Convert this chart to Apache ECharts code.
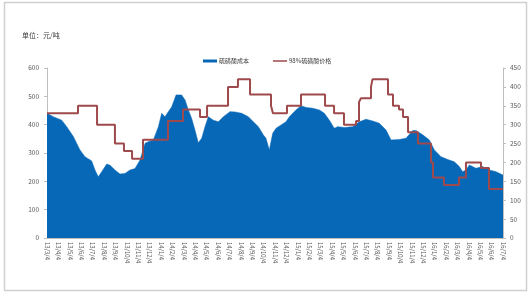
<!DOCTYPE html>
<html><head><meta charset="utf-8">
<script src="https://cdn.jsdelivr.net/npm/echarts@6/dist/echarts.min.js"></script>
<style>html,body{margin:0;padding:0;background:#fff}#c{width:532px;height:295px}</style>
</head><body><div id="c"></div>
<script>
// x tick labels (one per month)
const monthLabels = ["13/3/4","13/4/4","13/5/4","13/6/4","13/7/4","13/8/4","13/9/4","13/10/4","13/11/4","13/12/4",
 "14/1/4","14/2/4","14/3/4","14/4/4","14/5/4","14/6/4","14/7/4","14/8/4","14/9/4","14/10/4","14/11/4","14/12/4",
 "15/1/4","15/2/4","15/3/4","15/4/4","15/5/4","15/6/4","15/7/4","15/8/4","15/9/4","15/10/4","15/11/4","15/12/4",
 "16/1/4","16/2/4","16/3/4","16/4/4","16/5/4","16/6/4","16/7/4"];
// cost series (left axis): position in months from 13/3/4, value
const costX = [0,0.55,1.29,1.73,2.31,2.89,3.33,3.92,4.21,4.5,4.8,5.24,5.53,5.96,6.4,6.84,7.28,7.72,8.16,8.6,8.89,9.33,9.77,10.06,10.35,10.64,10.94,11.32,11.81,12.11,12.4,12.69,12.98,13.27,13.57,13.86,14.15,14.59,15.03,15.47,16.05,16.49,17.08,17.66,18.1,18.54,18.97,19.21,19.5,19.8,20.09,20.53,20.96,21.26,21.84,22.28,22.72,23.31,23.89,24.33,24.77,25.2,25.5,26.08,26.81,27.4,27.98,28.57,29.15,29.74,30.18,30.91,31.49,32.08,32.37,32.96,33.54,33.98,34.56,35.15,35.73,36.17,36.46,36.75,37.05,37.63,38.22,38.8,39.39,40];
const costY = [440,428,416,393,358,311,287,272,240,216,234,261,257,240,226,228,240,245,275,334,340,346,393,440,428,446,463,505,505,487,452,422,381,336,352,393,428,416,410,428,446,445,440,428,410,393,364,352,311,370,387,399,410,428,452,467,461,458,452,440,416,387,393,390,393,410,419,413,405,381,346,348,352,379,379,364,346,311,287,277,269,252,234,240,258,246,252,240,234,222];
// 98% price series (right axis): change points (months), value held after each point
const priceX = [0,2.72,4.39,5.96,6.75,7.46,8.42,10.61,11.93,13.42,14.04,15.88,16.75,17.81,19.65,19.82,21.05,22.28,24.39,25.18,26.05,27.11,27.37,27.54,28.42,28.55,29.91,30.35,30.88,31.23,31.67,32.54,33.68,33.86,34.82,36.14,36.75,38.07,38.77,40];
const priceY = [330,350,300,250,230,210,260,310,340,320,350,400,420,380,350,330,350,380,350,330,300,310,360,370,400,420,380,350,340,320,280,250,200,160,140,160,200,185,130,130];
const leftTicks = {min:0, max:600, interval:100};
const rightTicks = {min:0, max:450, interval:50};

const costData = costX.map((x,i)=>[x,costY[i]]);
const priceData = priceX.map((x,i)=>[x,priceY[i]]);
const txt = '#595959', ax = '#bfbfbf', ff = '"Noto Sans CJK SC", "Liberation Sans", sans-serif';
const legText = {fontSize:6, color:'#404040', fontFamily:ff, padding:[0,0,0,-3]};
const chart = echarts.init(document.getElementById('c'));
chart.setOption({
  animation:false,
  backgroundColor:'#fff',
  grid:{left:47, right:29, top:68, bottom:57},
  graphic:[
    {type:'rect', shape:{x:4.5,y:2.5,width:522,height:288}, style:{fill:'none', stroke:'#d0d0d0', lineWidth:1.5}},
    {type:'text', left:22, top:32, style:{text:'单位：元/吨', fill:'#404040', font:'7px '+ff}}
  ],
  legend:[
    {left:198, top:53, itemWidth:14, itemHeight:3, textStyle:legText,
     data:[{name:'硫磺酸成本', icon:'rect'}]},
    {left:268, top:53, itemWidth:14, itemHeight:1.5, textStyle:legText,
     data:[{name:'98%硫磺酸价格', icon:'rect'}]}
  ],
  xAxis:{
    type:'value', min:0, max:40, interval:1,
    axisLine:{show:true, lineStyle:{color:ax}},
    axisTick:{show:false},
    splitLine:{show:false},
    axisLabel:{rotate:-90, fontSize:6, color:txt, fontFamily:ff, margin:4,
      formatter:v=>monthLabels[Math.round(v)]||''}
  },
  yAxis:[
    {type:'value', ...leftTicks, position:'left',
     axisLine:{show:true, lineStyle:{color:ax}}, axisTick:{show:true, length:3, lineStyle:{color:ax}},
     splitLine:{show:false}, axisLabel:{fontSize:6.5, color:txt, fontFamily:ff, margin:8}},
    {type:'value', ...rightTicks, position:'right',
     axisLine:{show:true, lineStyle:{color:ax}}, axisTick:{show:true, length:3, lineStyle:{color:ax}},
     splitLine:{show:false}, axisLabel:{fontSize:6.5, color:txt, fontFamily:ff, margin:7}}
  ],
  series:[
    {name:'硫磺酸成本', type:'line', yAxisIndex:0, data:costData, symbol:'none',
     itemStyle:{color:'#0868b8'}, lineStyle:{width:0.5, color:'#0868b8'}, areaStyle:{color:'#0868b8', opacity:1}},
    {name:'98%硫磺酸价格', type:'line', yAxisIndex:1, data:priceData, symbol:'none', step:'end',
     itemStyle:{color:'#9e4a4c'}, lineStyle:{width:2, color:'#9e4a4c'}}
  ]
});
</script></body></html>
